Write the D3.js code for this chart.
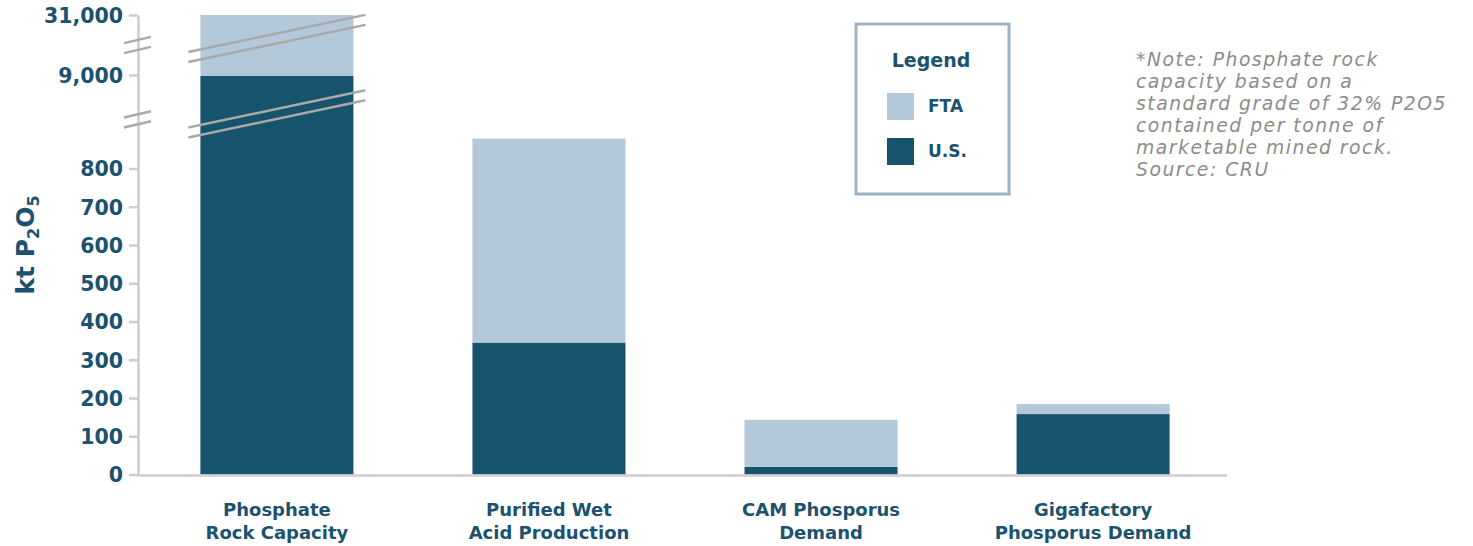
<!DOCTYPE html>
<html><head><meta charset="utf-8">
<script src="https://cdn.jsdelivr.net/npm/d3@7"></script>
<style>body{margin:0;background:#fff} svg{display:block}</style>
</head><body><svg id="c" width="1473" height="546"></svg>
<script>
// ---- data ----
const categories = [["Phosphate","Rock Capacity"],["Purified Wet","Acid Production"],["CAM Phosporus","Demand"],["Gigafactory","Phosporus Demand"]];
const usValues  = [8850, 345, 20, 158];
const ftaValues = [22150, 533, 123, 26];
const tickValues = [0,100,200,300,400,500,600,700,800,9000,31000];
const seriesNames = ["FTA","U.S."];
const noteLines = ["*Note: Phosphate rock","capacity based on a","standard grade of 32% P2O5","contained per tonne of","marketable mined rock.","Source: CRU"];
const axisBreaks = [2500, 20000];
const barBreaks = [3300, 22400];

// ---- styles ----
const DARK = "#18536e", LIGHT = "#b3c8d8", TEXT = "#1a5270", GRID = "#cdcdcd", BREAK = "#a9a9a9";
const FONT = "'DejaVu Sans', sans-serif";

const svg = d3.select("#c");
const y = d3.scaleLinear().domain([0, 900, 9000, 31000]).range([474.5, 130.25, 75, 15]);
const x = d3.scaleBand().domain(d3.range(categories.length)).range([140, 1230]).paddingInner(0.4375).paddingOuter(0.222);

const rows = categories.map((c, i) => ({i, us: usValues[i], fta: ftaValues[i]}));
const stack = d3.stack().keys(["us", "fta"])(rows);
const colors = {us: DARK, fta: LIGHT};

// bars
svg.append("g").selectAll("g").data(stack).join("g")
  .attr("fill", s => colors[s.key])
  .selectAll("rect").data(s => s).join("rect")
  .attr("x", d => x(d.data.i))
  .attr("width", x.bandwidth())
  .attr("y", d => y(d[1]))
  .attr("height", d => y(d[0]) - y(d[1]));

// x axis line
svg.append("line").attr("x1", 137).attr("x2", 1227).attr("y1", y(0) + 1).attr("y2", y(0) + 1)
  .attr("stroke", GRID).attr("stroke-width", 2.5);

// y axis
const ax = svg.append("g").attr("transform", "translate(138,0)")
  .call(d3.axisLeft(y).tickValues(tickValues).tickFormat(d3.format(",")).tickSize(9).tickSizeOuter(0));
ax.select(".domain").attr("stroke", GRID).attr("stroke-width", 2.5);
ax.selectAll(".tick line").attr("stroke", GRID).attr("stroke-width", 2.5);
ax.selectAll(".tick text").attr("fill", TEXT).attr("font-family", FONT).attr("font-weight", "bold")
  .attr("font-size", 20.5).attr("x", -15).attr("dy", "0.36em");

// breaks on axis
const breakG = svg.append("g").attr("stroke", BREAK).attr("stroke-width", 2.5);
axisBreaks.forEach(v => {
  const cy = y(v), x0 = 124, x1 = 151, s = 0.23, cx = (x0 + x1) / 2;
  [-5, 5].forEach(o => breakG.append("line")
    .attr("x1", x0).attr("x2", x1)
    .attr("y1", cy + o + s * (cx - x0)).attr("y2", cy + o - s * (x1 - cx)));
});
// breaks on bars that exceed the lower segment
rows.filter(r => r.us + r.fta > 900).forEach(r => {
  barBreaks.forEach(v => {
    const cy = y(v), x0 = x(r.i) - 12, x1 = x(r.i) + x.bandwidth() + 12, s = 0.21, cx = (x0 + x1) / 2;
    [-5, 5].forEach(o => breakG.append("line")
      .attr("x1", x0).attr("x2", x1)
      .attr("y1", cy + o + s * (cx - x0)).attr("y2", cy + o - s * (x1 - cx)));
  });
});

// x labels
svg.append("g").selectAll("text").data(categories).join("text")
  .attr("x", (d, i) => x(i) + x.bandwidth() / 2)
  .attr("y", 516)
  .attr("text-anchor", "middle").attr("fill", TEXT).attr("font-family", FONT)
  .attr("font-weight", "bold").attr("font-size", 18)
  .selectAll("tspan").data(d => d).join("tspan")
  .attr("x", function() { return this.parentNode.getAttribute("x"); })
  .attr("dy", (d, j) => j === 0 ? 0 : 23)
  .text(d => d);

// y title
const yt = svg.append("text").attr("transform", "translate(34,245) rotate(-90)")
  .attr("text-anchor", "middle").attr("fill", TEXT).attr("font-family", FONT)
  .attr("font-weight", "bold").attr("font-size", 25);
yt.append("tspan").text("kt P");
yt.append("tspan").attr("font-size", 16).attr("dy", 5).text("2");
yt.append("tspan").attr("dy", -5).text("O");
yt.append("tspan").attr("font-size", 16).attr("dy", 5).text("5");

// legend
const lg = svg.append("g");
lg.append("rect").attr("x", 856).attr("y", 24).attr("width", 153).attr("height", 170)
  .attr("fill", "#fff").attr("stroke", "#9bb4c3").attr("stroke-width", 3);
lg.append("text").attr("x", 931).attr("y", 67).attr("text-anchor", "middle")
  .attr("fill", TEXT).attr("font-family", FONT).attr("font-weight", "bold").attr("font-size", 19).text("Legend");
const legColors = [LIGHT, DARK];
seriesNames.forEach((n, i) => {
  lg.append("rect").attr("x", 887).attr("y", 93 + i * 45).attr("width", 27).attr("height", 27).attr("fill", legColors[i]);
  lg.append("text").attr("x", 928).attr("y", 112 + i * 45).attr("fill", TEXT).attr("font-family", FONT)
    .attr("font-weight", "bold").attr("font-size", 17).text(n);
});

// note
svg.append("g").selectAll("text").data(noteLines).join("text")
  .attr("x", 1136).attr("y", (d, i) => 66 + i * 22)
  .attr("fill", "#8c8c8c").attr("font-family", FONT).attr("font-style", "italic").attr("font-size", 18.8)
  .attr("letter-spacing", 1.5)
  .text(d => d);
</script></body></html>
